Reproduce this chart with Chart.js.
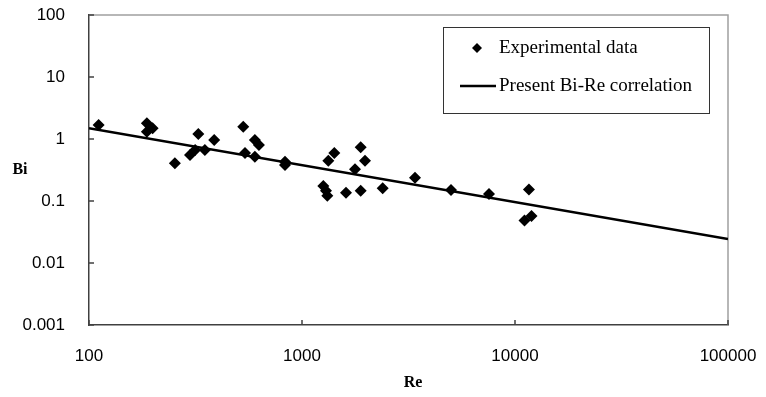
<!DOCTYPE html>
<html>
<head>
<meta charset="UTF-8">
<title>Bi - Re</title>
<script src="https://cdn.jsdelivr.net/npm/chart.js"></script>
<style>
  html, body { margin: 0; padding: 0; background: #fff; }
</style>
</head>
<body>
<canvas id="chart" width="766" height="397"></canvas>
<script>
  // experimental points
  const reValues = [111, 187, 187, 199, 253, 298, 315, 326, 350, 387,
                    530, 540, 601, 628, 601, 832, 832, 1259, 1296, 1315,
                    1329, 1418, 1609, 1774, 1886, 1976, 1886, 2393, 3393, 5006,
                    7551, 11630, 11080, 11950];
  const biValues = [1.68, 1.79, 1.31, 1.49, 0.406, 0.552, 0.665, 1.20, 0.665, 0.964,
                    1.58, 0.594, 0.964, 0.80, 0.519, 0.430, 0.381, 0.175, 0.147, 0.121,
                    0.447, 0.594, 0.136, 0.324, 0.735, 0.447, 0.147, 0.160, 0.238, 0.150,
                    0.130, 0.153, 0.0485, 0.0573];
  // correlation line end points
  const lineRe = [100, 100000];
  const lineBi = [1.49, 0.0244];
  const xTicks = [100, 1000, 10000, 100000];
  const yTicks = [0.001, 0.01, 0.1, 1, 10, 100];

  const tickFont = { family: 'Liberation Sans', size: 17 };

  const framePlugin = {
    id: 'frame',
    beforeDatasetsDraw(chart) {
      const { ctx, chartArea: a } = chart;
      ctx.save();
      ctx.strokeStyle = '#a0a0a0';
      ctx.lineWidth = 1.5;
      ctx.beginPath();
      ctx.moveTo(a.left, a.top);
      ctx.lineTo(a.right, a.top);
      ctx.lineTo(a.right, a.bottom);
      ctx.stroke();
      // inward tick marks
      ctx.strokeStyle = '#404040';
      ctx.lineWidth = 1.5;
      const sx = chart.scales.x, sy = chart.scales.y;
      sx.ticks.forEach(t => {
        const px = sx.getPixelForValue(t.value);
        ctx.beginPath(); ctx.moveTo(px, a.bottom); ctx.lineTo(px, a.bottom - 5); ctx.stroke();
      });
      sy.ticks.forEach(t => {
        const py = sy.getPixelForValue(t.value);
        ctx.beginPath(); ctx.moveTo(a.left, py); ctx.lineTo(a.left + 5, py); ctx.stroke();
      });
      ctx.restore();
    },
    afterDraw(chart) {
      const { ctx } = chart;
      ctx.save();
      // axis titles
      ctx.fillStyle = '#000';
      ctx.font = 'bold 16px "Liberation Serif"';
      ctx.textAlign = 'center';
      ctx.textBaseline = 'middle';
      ctx.fillText('Bi', 20, 170);
      ctx.fillText('Re', 413, 383);

      // legend box
      const lx = 443, ly = 27, lw = 266, lh = 86;
      ctx.fillStyle = '#fff';
      ctx.fillRect(lx, ly, lw, lh);
      ctx.strokeStyle = '#333';
      ctx.lineWidth = 1;
      ctx.strokeRect(lx + 0.5, ly + 0.5, lw, lh);

      const ds = chart.data.datasets;
      ctx.fillStyle = '#000';
      ctx.beginPath();
      ctx.moveTo(477, 43); ctx.lineTo(482, 48); ctx.lineTo(477, 53); ctx.lineTo(472, 48);
      ctx.closePath();
      ctx.fill();
      ctx.strokeStyle = '#000';
      ctx.lineWidth = 2.5;
      ctx.beginPath(); ctx.moveTo(460, 86); ctx.lineTo(496, 86); ctx.stroke();

      ctx.font = '19px "Liberation Serif"';
      ctx.textAlign = 'left';
      ctx.fillText(ds[0].label, 499, 48);
      ctx.fillText(ds[1].label, 499, 86);
      ctx.restore();
    }
  };

  new Chart(document.getElementById('chart'), {
    type: 'scatter',
    data: {
      datasets: [{
        label: 'Experimental data',
        data: reValues.map((x, i) => ({ x: x, y: biValues[i] })),
        pointStyle: 'rectRot',
        pointRadius: 6,
        backgroundColor: '#000',
        borderColor: '#000',
        borderWidth: 0
      }, {
        type: 'line',
        label: 'Present Bi-Re correlation',
        data: lineRe.map((x, i) => ({ x: x, y: lineBi[i] })),
        borderColor: '#000',
        borderWidth: 2.5,
        pointRadius: 0,
        fill: false
      }]
    },
    options: {
      responsive: false,
      animation: false,
      layout: { padding: { left: 0, top: 15, right: 38, bottom: 0 } },
      plugins: { legend: { display: false }, tooltip: { enabled: false } },
      scales: {
        x: {
          type: 'logarithmic',
          min: 100, max: 100000,
          afterBuildTicks: s => { s.ticks = xTicks.map(v => ({ value: v })); },
          afterFit: s => { s.height = 72; s.paddingLeft = 0; s.paddingRight = 0; },
          grid: { display: false },
          border: { display: true, color: '#404040', width: 1.5 },
          ticks: { font: tickFont, color: '#000', padding: 13, maxRotation: 0, autoSkip: false,
                   callback: v => String(v) }
        },
        y: {
          type: 'logarithmic',
          min: 0.001, max: 100,
          afterBuildTicks: s => { s.ticks = yTicks.map(v => ({ value: v })); },
          afterFit: s => { s.width = 89; s.paddingTop = 0; s.paddingBottom = 0; },
          grid: { display: false },
          border: { display: true, color: '#404040', width: 1.5 },
          ticks: { font: tickFont, color: '#000', padding: 16, autoSkip: false,
                   callback: v => String(v) }
        }
      }
    },
    plugins: [framePlugin]
  });
</script>
</body>
</html>
